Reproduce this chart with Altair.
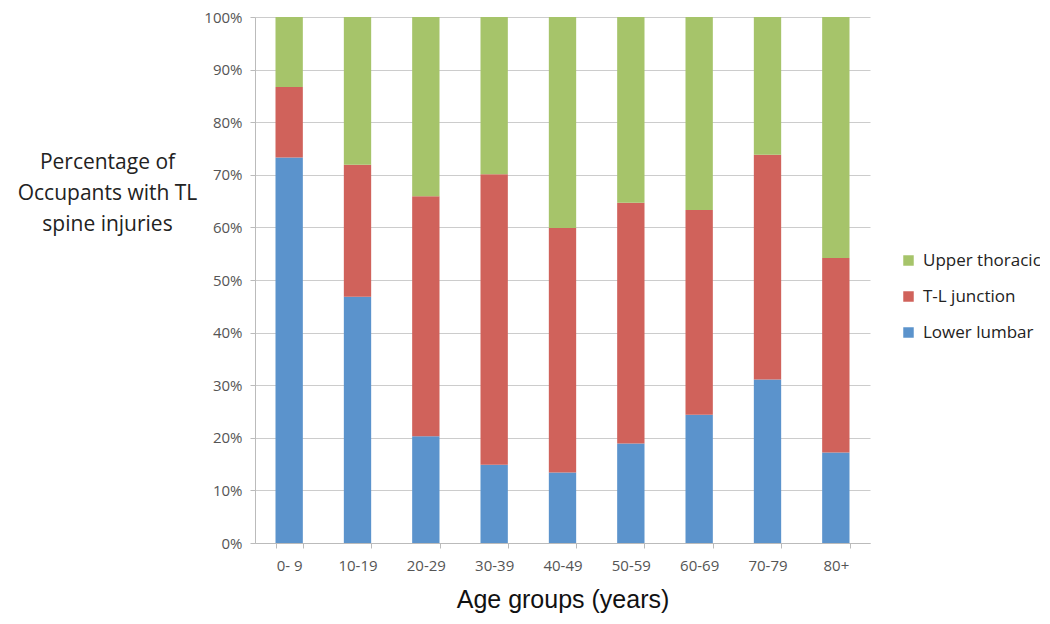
import altair as alt
import pandas as pd

ages = ["0- 9", "10-19", "20-29", "30-39", "40-49", "50-59", "60-69", "70-79", "80+"]
lower_lumbar = [73.3, 46.8, 20.3, 14.9, 13.4, 18.9, 24.4, 31.1, 17.2]
tl_junction = [13.4, 25.1, 45.6, 55.2, 46.5, 45.8, 38.9, 42.7, 37.0]
upper_thoracic = [13.3, 28.1, 34.1, 29.9, 40.1, 35.3, 36.7, 26.2, 45.8]

series = ["Upper thoracic", "T-L junction", "Lower lumbar"]
colors = ["#A6C46A", "#D0625B", "#5B93CC"]

rows = []
for i, a in enumerate(ages):
    rows.append({"age": a, "region": "Lower lumbar", "value": lower_lumbar[i] / 100, "ord": 0})
    rows.append({"age": a, "region": "T-L junction", "value": tl_junction[i] / 100, "ord": 1})
    rows.append({"age": a, "region": "Upper thoracic", "value": upper_thoracic[i] / 100, "ord": 2})
df = pd.DataFrame(rows)

chart = alt.Chart(df).mark_bar().encode(
    x=alt.X("age:N", sort=ages,
            scale=alt.Scale(paddingInner=0.6, paddingOuter=0.3),
            axis=alt.Axis(title="Age groups (years)", labelAngle=0, tickBand="extent",
                          labelFont="Open Sans", labelFontSize=15, labelColor="#555555",
                          labelPadding=10, tickSize=5, tickColor="#BBBBBB",
                          domainColor="#BBBBBB", grid=False,
                          titleFont="Liberation Sans", titleFontSize=25,
                          titleFontWeight="normal", titleColor="#111111", titlePadding=14)),
    y=alt.Y("value:Q", stack="zero",
            scale=alt.Scale(domain=[0, 1], nice=False),
            axis=alt.Axis(format=".0%", values=[i / 10 for i in range(11)],
                          title=["Percentage of", "Occupants with TL", "spine injuries"],
                          titleAngle=0, titleAlign="center", titleBaseline="top",
                          titleX=-148, titleY=134, titleLineHeight=31,
                          titleFont="Open Sans", titleFontSize=21, titleFontWeight="normal",
                          titleColor="#222222",
                          labelFont="Open Sans", labelFontSize=15, labelColor="#555555",
                          labelPadding=8, tickSize=5, tickColor="#BBBBBB",
                          domainColor="#BBBBBB", gridColor="#CCCCCC")),
    color=alt.Color("region:N",
                    scale=alt.Scale(domain=series, range=colors),
                    legend=alt.Legend(title=None, orient="none", legendX=645, legendY=235,
                                      symbolType="square", symbolSize=110, symbolStrokeWidth=0,
                                      labelFont="Open Sans", labelFontSize=17,
                                      labelColor="#222222", rowPadding=18, labelOffset=6)),
    order=alt.Order("ord:Q", sort="ascending"),
).properties(
    width=615, height=526,
    autosize=alt.AutoSizeParams(type="none"),
    padding={"left": 247, "top": 9, "right": 170, "bottom": 70},
).configure_view(stroke=None)

chart.save("out.html", embed_options={"renderer": "svg", "actions": False})
